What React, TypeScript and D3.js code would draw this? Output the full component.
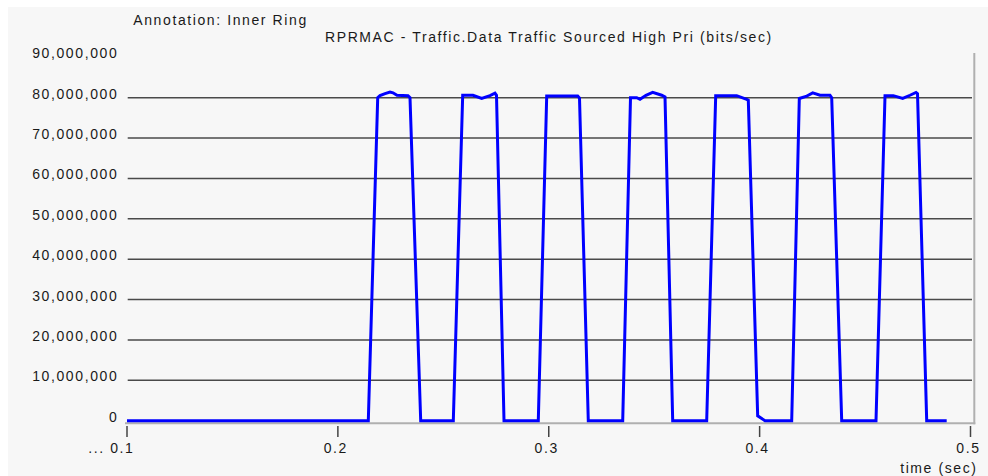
import React from "react";
import * as d3 from "d3";

const times = [
  0.1, 0.21443, 0.21889, 0.21998, 0.22236, 0.22473, 0.22614, 0.22804, 0.23326, 0.2342, 0.23928,
  0.25474, 0.25919, 0.26408, 0.2682, 0.27214, 0.27451, 0.27522, 0.27878,
  0.29504, 0.29903, 0.31373, 0.31458, 0.31875,
  0.33507, 0.33877, 0.3417, 0.34327, 0.34612, 0.34929, 0.35356, 0.35513, 0.35878,
  0.3749, 0.37917, 0.38913, 0.39387, 0.39463, 0.39908, 0.40255,
  0.41521, 0.41882, 0.42199, 0.42517, 0.42863, 0.43337, 0.43418, 0.43892,
  0.45519, 0.45946, 0.46339, 0.46785, 0.47131, 0.47416, 0.47487, 0.47923, 0.48871,
];
const traffic = [
  0, 0, 80.0e6, 80.5e6, 81.0e6, 81.4e6, 81.2e6, 80.6e6, 80.5e6, 80.0e6, 0,
  0, 80.6e6, 80.6e6, 79.8e6, 80.5e6, 81.1e6, 80.6e6, 0,
  0, 80.4e6, 80.4e6, 79.9e6, 0,
  0, 80.0e6, 80.0e6, 79.6e6, 80.6e6, 81.3e6, 80.6e6, 80.2e6, 0,
  0, 80.5e6, 80.5e6, 79.6e6, 79.4e6, 1.2e6, 0,
  0, 79.8e6, 80.3e6, 81.2e6, 80.6e6, 80.6e6, 80.0e6, 0,
  0, 80.5e6, 80.5e6, 79.8e6, 80.6e6, 81.3e6, 81.0e6, 0, 0,
];
const yTicks = [0, 10e6, 20e6, 30e6, 40e6, 50e6, 60e6, 70e6, 80e6, 90e6];
const gridValues = [10e6, 20e6, 30e6, 40e6, 50e6, 60e6, 70e6, 80e6];
const xTicks = [0.1, 0.2, 0.3, 0.4, 0.5];
const xTickLabels = ["... 0.1", "0.2", "0.3", "0.4", "0.5"];
const annotation = "Annotation: Inner Ring";
const title = "RPRMAC - Traffic.Data Traffic Sourced High Pri (bits/sec)";
const xTitle = "time (sec)";

const W = 988;
const H = 476;
const FONT = "'Liberation Sans', Arial, sans-serif";
const LS = 1.6;

export default function App() {
  const x = d3.scaleLinear().domain([0.1, 0.5]).range([127, 970.5]);
  const y = d3.scaleLinear().domain([0, 90e6]).range([420.7, 57.3]);
  const pts: [number, number][] = times.map((t, i) => [t, traffic[i]]);
  const line = d3
    .line<[number, number]>()
    .x((d) => x(d[0]))
    .y((d) => y(d[1]));
  const fmt = d3.format(",");
  const textStyle = {
    fontFamily: FONT,
    fontSize: 14,
    letterSpacing: LS,
    fill: "#1a1a1a",
  } as React.CSSProperties;

  return (
    <svg
      width={W}
      height={H}
      style={{ position: "absolute", left: 0, top: 0, display: "block" }}
    >
      <rect x={0} y={0} width={W} height={H} fill="#ffffff" />
      <rect x={8} y={7} width={W - 8} height={H - 7} fill="#f7f7f7" />

      <text x={133.3} y={25} style={textStyle}>
        {annotation}
      </text>
      <text x={325} y={42.3} style={textStyle}>
        {title}
      </text>

      {gridValues.map((v) => (
        <line
          key={v}
          x1={127.7}
          x2={972}
          y1={y(v)}
          y2={y(v)}
          stroke="#4a4a4a"
          strokeWidth={1.6}
        />
      ))}

      <line x1={125} x2={975.3} y1={423.3} y2={423.3} stroke="#b0b0b0" strokeWidth={2} />
      <line x1={974.3} x2={974.3} y1={53} y2={424.3} stroke="#b0b0b0" strokeWidth={2} />

      {yTicks.map((v) => (
        <text key={v} x={116.7 + LS} y={y(v) + 1} textAnchor="end" style={textStyle}>
          {fmt(v)}
        </text>
      ))}

      {xTicks.map((t, i) => (
        <g key={t}>
          <line
            x1={x(t)}
            x2={x(t)}
            y1={426}
            y2={437}
            stroke="#444"
            strokeWidth={1.5}
          />
          {i === 0 ? (
            <text x={x(t) + 7.5} y={452.7} textAnchor="end" style={textStyle}>
              {xTickLabels[i]}
            </text>
          ) : (
            <text x={x(t) - 2} y={452.7} textAnchor="middle" style={textStyle}>
              {xTickLabels[i]}
            </text>
          )}
        </g>
      ))}

      <text x={976 + LS} y={473.3} textAnchor="end" style={textStyle}>
        {xTitle}
      </text>

      <path
        d={line(pts) || ""}
        fill="none"
        stroke="#0000ff"
        strokeWidth={3}
        strokeLinejoin="miter"
      />
    </svg>
  );
}
